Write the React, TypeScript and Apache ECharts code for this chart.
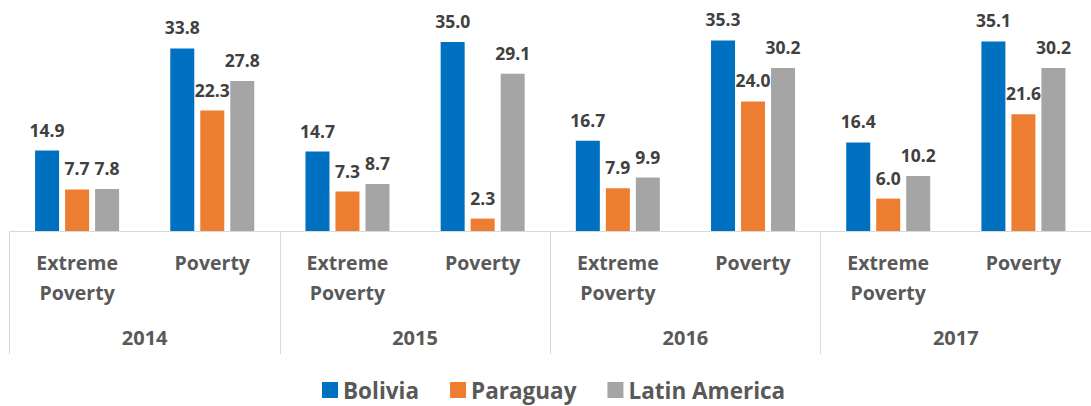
import React, { useEffect, useRef } from "react";
import * as echarts from "echarts";

const categories = [
  "Extreme\nPoverty", "Poverty",
  "Extreme\nPoverty", "Poverty",
  "Extreme\nPoverty", "Poverty",
  "Extreme\nPoverty", "Poverty",
];
const years = ["2014", "2015", "2016", "2017"];
const bolivia = [14.9, 33.8, 14.7, 35.0, 16.7, 35.3, 16.4, 35.1];
const paraguay = [7.7, 22.3, 7.3, 2.3, 7.9, 24.0, 6.0, 21.6];
const latinAmerica = [7.8, 27.8, 8.7, 29.1, 9.9, 30.2, 10.2, 30.2];

const FONT = "Open Sans";

export default function App() {
  const ref = useRef<HTMLDivElement>(null);
  useEffect(() => {
    if (!ref.current) return;
    const chart = echarts.init(ref.current, null, { renderer: "svg" });
    const label = {
      show: true,
      position: "top",
      distance: 12,
      fontFamily: FONT,
      fontWeight: "bold",
      fontSize: 17.5,
      color: "#404040",
      formatter: (p: any) => Number(p.value).toFixed(1),
    };
    const mk = (name: string, data: number[], color: string) => ({
      name,
      type: "bar",
      data,
      barWidth: 24,
      barGap: "25%",
      itemStyle: { color },
      label,
    });
    chart.setOption({
      animation: false,
      grid: { left: 9.5, top: 15, width: 1089.5, height: 216 },
      legend: {
        top: 378,
        padding: 0,
        left: 322,
        itemWidth: 16,
        itemHeight: 16,
        itemGap: 31,
        icon: "rect",
        textStyle: { fontFamily: FONT, fontWeight: "bold", fontSize: 22.5, lineHeight: 24, color: "#595959" },
      },
      xAxis: [
        {
          type: "category",
          data: categories,
          axisLine: { lineStyle: { color: "#d9d9d9", width: 1 } },
          axisTick: { show: false },
          axisLabel: {
            interval: 0,
            margin: 16,
            lineHeight: 30,
            fontFamily: FONT,
            fontWeight: "bold",
            fontSize: 19.5,
            color: "#595959",
          },
        },
        {
          type: "category",
          data: years,
          position: "bottom",
          axisLine: { show: false },
          axisTick: { show: true, length: 123, lineStyle: { color: "#d9d9d9", width: 1 } },
          axisLabel: {
            margin: 96,
            fontFamily: FONT,
            fontWeight: "bold",
            fontSize: 20,
            color: "#595959",
          },
        },
      ],
      yAxis: { type: "value", min: 0, max: 40, show: false, splitLine: { show: false } },
      series: [
        mk("Bolivia", bolivia, "#0070C0"),
        mk("Paraguay", paraguay, "#ED7D31"),
        mk("Latin America", latinAmerica, "#A5A5A5"),
      ],
    });
    return () => chart.dispose();
  }, []);
  return (
    <div
      ref={ref}
      style={{ position: "fixed", left: 0, top: 0, width: 1091, height: 406, background: "#fff" }}
    />
  );
}
